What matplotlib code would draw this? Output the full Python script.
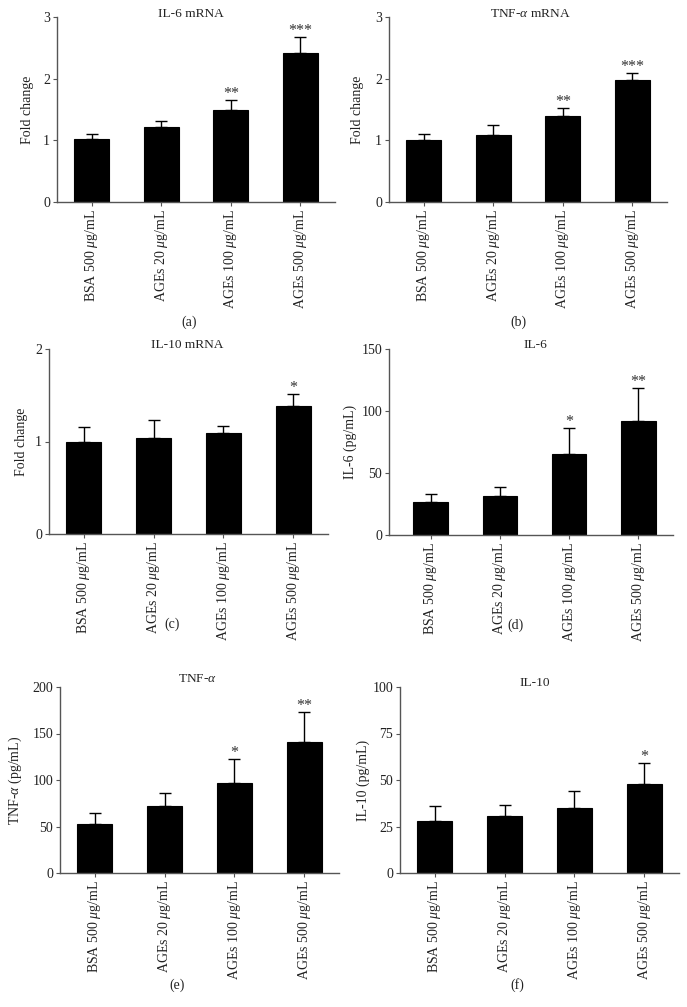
import matplotlib
matplotlib.use("Agg")
import matplotlib.pyplot as plt
import numpy as np

plt.rcParams['font.family'] = ['Liberation Serif', 'DejaVu Serif']
plt.rcParams['mathtext.fontset'] = 'custom'
plt.rcParams['mathtext.rm'] = 'Liberation Serif'
plt.rcParams['mathtext.it'] = 'Liberation Serif:italic'

categories = ["BSA 500 $\\mathit{\\mu}$g/mL", "AGEs 20 $\\mathit{\\mu}$g/mL",
              "AGEs 100 $\\mathit{\\mu}$g/mL", "AGEs 500 $\\mathit{\\mu}$g/mL"]

il6_mrna = [1.02, 1.22, 1.50, 2.41]
il6_mrna_err = [1.10, 1.31, 1.65, 2.67]
il6_mrna_sig = ["", "", "**", "***"]

tnf_mrna = [1.00, 1.08, 1.39, 1.98]
tnf_mrna_err = [1.10, 1.25, 1.52, 2.09]
tnf_mrna_sig = ["", "", "**", "***"]

il10_mrna = [1.00, 1.04, 1.09, 1.38]
il10_mrna_err = [1.16, 1.23, 1.17, 1.51]
il10_mrna_sig = ["", "", "", "*"]

il6_prot = [26.4, 31.3, 65.6, 92.3]
il6_prot_err = [32.9, 39.1, 86.6, 118.7]
il6_prot_sig = ["", "", "*", "**"]

tnf_prot = [52.9, 71.6, 97.1, 140.6]
tnf_prot_err = [64.7, 86.3, 123.0, 172.7]
tnf_prot_sig = ["", "", "*", "**"]

il10_prot = [27.9, 30.8, 34.7, 47.7]
il10_prot_err = [36.2, 36.3, 44.1, 59.0]
il10_prot_sig = ["", "", "", "*"]

W, H = 687, 1007
fig = plt.figure(figsize=(W / 100, H / 100), dpi=100)

def px_axes(left, right, top, bottom):
    return fig.add_axes([left / W, 1 - bottom / H, (right - left) / W, (bottom - top) / H])

SPINE = '#555555'

panels = [
    dict(box=(57, 335, 17, 202), xlim=(-0.5, 3.5), vals=il6_mrna, err=il6_mrna_err, sig=il6_mrna_sig,
         ylim=3, ticks=[0, 1, 2, 3], title="IL-6 mRNA", tpos=(191, 14), ylabel="Fold change", ylx=27,
         lab="(a)", lpos=(189, 322)),
    dict(box=(389, 667, 17, 202), xlim=(-0.5, 3.5), vals=tnf_mrna, err=tnf_mrna_err, sig=tnf_mrna_sig,
         ylim=3, ticks=[0, 1, 2, 3], title="TNF-$\\mathit{\\alpha}$ mRNA", tpos=(530, 14), ylabel="Fold change", ylx=358,
         lab="(b)", lpos=(518, 322)),
    dict(box=(49, 328, 349, 534), xlim=(-0.5, 3.5), vals=il10_mrna, err=il10_mrna_err, sig=il10_mrna_sig,
         ylim=2, ticks=[0, 1, 2], title="IL-10 mRNA", tpos=(187, 345), ylabel="Fold change", ylx=21,
         lab="(c)", lpos=(172, 624)),
    dict(box=(389, 673, 349, 535), xlim=(-0.6, 3.5), vals=il6_prot, err=il6_prot_err, sig=il6_prot_sig,
         ylim=150, ticks=[0, 50, 100, 150], title="IL-6", tpos=(535, 345), ylabel="IL-6 (pg/mL)", ylx=350,
         lab="(d)", lpos=(515, 625)),
    dict(box=(60, 339, 687, 873), xlim=(-0.5, 3.5), vals=tnf_prot, err=tnf_prot_err, sig=tnf_prot_sig,
         ylim=200, ticks=[0, 50, 100, 150, 200], title="TNF-$\\mathit{\\alpha}$", tpos=(197, 679),
         ylabel="TNF-$\\mathit{\\alpha}$ (pg/mL)", ylx=15, lab="(e)", lpos=(177, 985)),
    dict(box=(400, 679, 687, 873), xlim=(-0.5, 3.5), vals=il10_prot, err=il10_prot_err, sig=il10_prot_sig,
         ylim=100, ticks=[0, 25, 50, 75, 100], title="IL-10", tpos=(535, 683), ylabel="IL-10 (pg/mL)", ylx=363,
         lab="(f)", lpos=(517, 985)),
]

FS_TICK = 10
FS_TXT = 9.6
FS_YL = 10
for p in panels:
    l, r, t, b = p['box']
    ax = px_axes(l, r, t, b)
    x = np.arange(len(categories))
    vals = np.array(p['vals'])
    err = np.array(p['err'])
    ax.bar(x, vals, width=0.5, color='black', edgecolor='black', linewidth=0.8, zorder=2)
    ax.errorbar(x, vals, yerr=[np.zeros_like(vals), err - vals], fmt='none', ecolor='black',
                elinewidth=1.0, capsize=4.5, capthick=1.0, zorder=1)
    for xi, e, s in zip(x, err, p['sig']):
        if s:
            ax.annotate(s, (xi, e), xytext=(0, -1.5), textcoords='offset points', ha='center', va='bottom',
                        fontsize=11.5, color='#333333')
    ax.set_xlim(*p['xlim'])
    ax.set_ylim(0, p['ylim'])
    ax.set_yticks(p['ticks'])
    ax.set_yticklabels([str(v) for v in p['ticks']], fontsize=FS_TICK)
    ax.set_xticks(x)
    ax.set_xticklabels(categories, rotation=90, fontsize=FS_TICK, va='top', ha='center')
    for s in ['top', 'right']:
        ax.spines[s].set_visible(False)
    for s in ['left', 'bottom']:
        ax.spines[s].set_color(SPINE)
        ax.spines[s].set_linewidth(1.0)
    ax.tick_params(axis='both', colors=SPINE, labelcolor='#222222', length=3, width=0.8, pad=2)
    fig.text(p['tpos'][0] / W, 1 - p['tpos'][1] / H, p['title'], ha='center', va='center', fontsize=FS_TXT,
             color='#222222')
    fig.text(p['ylx'] / W, 1 - ((t + b) / 2) / H, p['ylabel'], ha='center', va='center', rotation=90,
             fontsize=FS_YL, color='#222222')
    fig.text(p['lpos'][0] / W, 1 - p['lpos'][1] / H, p['lab'], ha='center', va='center', fontsize=FS_TICK,
             color='#222222')

fig.savefig("out.png", dpi=100)
